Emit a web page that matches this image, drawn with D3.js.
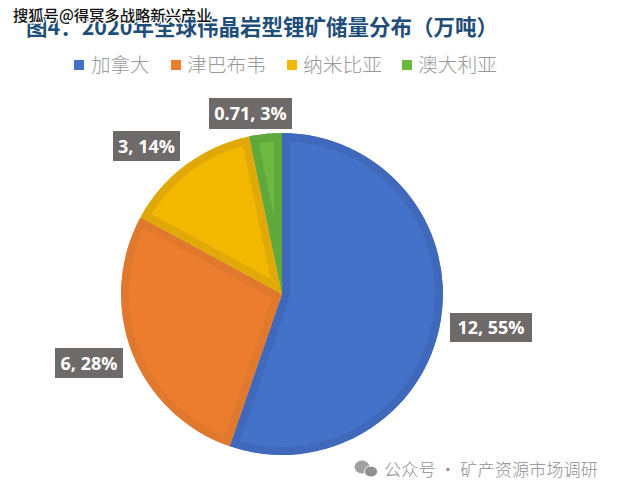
<!DOCTYPE html>
<html><head><meta charset="utf-8">
<script src="https://cdnjs.cloudflare.com/ajax/libs/d3/7.8.5/d3.min.js"></script>
<style>html,body{margin:0;padding:0;background:#fff}svg{display:block}text{font-family:"Noto Sans CJK SC","Noto Sans",sans-serif}</style>
</head><body><svg id="c" width="618" height="495"></svg>
<script>
const categories=["加拿大","津巴布韦","纳米比亚","澳大利亚"];
const values=[12,6,3,0.71];
const percents=["55%","28%","14%","3%"];
const fills=["#4472C8","#ED7D2E","#F2B800","#6DB83F"];
const strokes=["#4069BC","#E0782E","#E0A908","#5FA83C"];
const legendX=[74,171,287,402];
const labelBoxes=[[450,313,82,29],[55,348,68,30],[113,131,67,30],[209,98,83,31]];
const svg=d3.select("#c");
svg.append("rect").attr("width",618).attr("height",495).attr("fill","#fff");
const cx=282,cy=294,R=161;
const pie=d3.pie().sort(null).value(d=>d)(values);
const arc=d3.arc().innerRadius(0).outerRadius(R);
const g=svg.append("g").attr("transform",`translate(${cx},${cy})`);
const defs=svg.append("defs");
pie.forEach((d,i)=>{
  defs.append("clipPath").attr("id","s"+i).append("path").attr("d",arc(d));
  g.append("path").attr("d",arc(d)).attr("fill",fills[i]).attr("stroke",strokes[i]).attr("stroke-width",16).attr("stroke-linejoin","miter").attr("clip-path",`url(#s${i})`);
});
pie.forEach((d,i)=>{
  const b=labelBoxes[i];
  svg.append("rect").attr("x",b[0]).attr("y",b[1]).attr("width",b[2]).attr("height",b[3]).attr("fill","#6E6A69");
  svg.append("text").attr("x",b[0]+b[2]/2).attr("y",b[1]+b[3]/2+6.5).attr("text-anchor","middle").attr("fill","#fff").attr("font-size",18).attr("font-weight",700).style("font-family","'Open Sans',sans-serif").text(`${values[i]}, ${percents[i]}`);
});
svg.append("text").attr("x",26).attr("y",35).attr("fill","#1F4E79").attr("font-size",21.5).attr("font-weight",700).text("图4：2020年全球伟晶岩型锂矿储量分布（万吨）");
categories.forEach((c,i)=>{
  svg.append("rect").attr("x",legendX[i]).attr("y",60).attr("width",10).attr("height",10).attr("fill",fills[i]);
  svg.append("text").attr("x",legendX[i]+(c.length===3?17:16)).attr("y",72).attr("fill","#999").attr("font-size",c.length===3?19.5:19.8).attr("font-weight",300).text(c);
});
svg.append("text").attr("x",13).attr("y",21).attr("fill","#111").attr("stroke","#fff").attr("stroke-width",2.5).attr("paint-order","stroke").attr("font-size",15.3).attr("font-weight",500).text("搜狐号@得冥多战略新兴产业");
const wm=svg.append("g").attr("transform","translate(362,467)");
wm.append("ellipse").attr("cx",0).attr("cy",0).attr("rx",7.5).attr("ry",6.5).attr("fill","#a0a0a0");
wm.append("ellipse").attr("cx",9).attr("cy",4.5).attr("rx",6.5).attr("ry",5.5).attr("fill","#8f8f8f").attr("stroke","#fff");
svg.append("text").attr("x",384).attr("y",476).attr("fill","#8f8f8f").attr("font-size",17.2).attr("font-weight",300).text("公众号 · 矿产资源市场调研");
</script></body></html>
